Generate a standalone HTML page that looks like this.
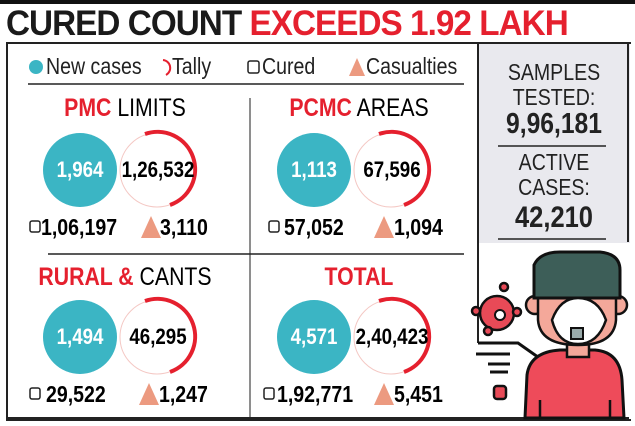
<!DOCTYPE html><html><head><style>
body{margin:0;width:635px;height:426px;background:#fff;position:relative;overflow:hidden;font-family:"Liberation Sans",sans-serif}
.a{position:absolute;white-space:nowrap}
.t{font-weight:bold;font-size:16px;transform:scaleX(.85);transform-origin:center}
</style></head><body>
<div class="a" style="left:0;top:0;width:635px;height:4px;background:#111"></div>
<div class="a" style="left:6px;top:4px;font-size:35px;font-weight:bold;letter-spacing:-1px;transform:scaleX(.95);transform-origin:left"><span style="color:#1a1a1a">CURED COUNT </span><span style="color:#e5202e">EXCEEDS 1.92 LAKH</span></div>
<div class="a" style="left:478px;top:43px;width:152px;height:200px;background:#e9e9ee"></div>
<div class="a" style="left:6px;top:42px;width:623px;height:375px;border:2px solid #222;border-right:none"></div>
<div class="a" style="left:627px;top:42px;width:2px;height:200px;background:#222"></div>
<div class="a" style="left:477px;top:43px;width:2px;height:300px;background:#222"></div>
<svg class="a" style="left:0;top:0" width="635" height="426">
<line x1="28" y1="84" x2="464" y2="84" stroke="#222" stroke-width="1.5"/>
<line x1="250" y1="98" x2="250" y2="418" stroke="#444" stroke-width="1.2"/>
<line x1="48" y1="254" x2="464" y2="254" stroke="#222" stroke-width="1.5"/>
<line x1="498" y1="146" x2="606" y2="146" stroke="#222" stroke-width="1.5"/>
<line x1="498" y1="239" x2="606" y2="239" stroke="#222" stroke-width="1.5"/>
<circle cx="36" cy="67" r="7" fill="#3bb5c4"/>
<path d="M163 60 A8 8 0 0 1 166 75" fill="none" stroke="#e5202e" stroke-width="2"/>
<rect x="248" y="61" width="11" height="12" rx="2" fill="none" stroke="#222" stroke-width="1.5"/>
<path d="M349 76 L357 58 L365 76Z" fill="#ec9a80"/>
<g id="c">
<circle cx="80" cy="170" r="37" fill="#3bb5c4"/>
<circle cx="157" cy="170" r="37" fill="#fff" stroke="#f4c8c4" stroke-width="1"/>
<path d="M145 134 A37 37 0 0 1 170 205" fill="none" stroke="#e5202e" stroke-width="4"/>
</g>
<use href="#c" x="234"/><use href="#c" y="167"/><use href="#c" x="234" y="167"/>
<g fill="none" stroke="#222" stroke-width="1.5">
<rect x="30" y="221" width="10" height="11" rx="2"/><rect x="269" y="221" width="10" height="11" rx="2"/>
<rect x="30" y="388" width="10" height="11" rx="2"/><rect x="264" y="388" width="10" height="11" rx="2"/></g>
<g fill="#ec9a80"><path d="M141 238L151 216L161 238Z"/><path d="M374 238L384 216L394 238Z"/><path d="M139 405L149 383L159 405Z"/><path d="M374 405L384 383L394 405Z"/></g>
<line x1="6" y1="418" x2="629" y2="418" stroke="#222" stroke-width="2"/>
<path d="M478 343 L518 343 L545 362" fill="none" stroke="#111" stroke-width="3"/>
<g stroke="#111" stroke-width="3"><line x1="476" y1="354" x2="510" y2="354"/><line x1="488" y1="364" x2="510" y2="364"/><line x1="490" y1="372" x2="508" y2="372"/></g>
<rect x="494" y="386" width="12" height="13" rx="3" fill="#e84a57" stroke="#111" stroke-width="2.5"/>
<g stroke="#111" stroke-width="2.5" fill="#e84a57"><circle cx="497" cy="313" r="17"/><circle cx="504" cy="287" r="4"/><circle cx="476" cy="311" r="4"/><circle cx="517" cy="312" r="4"/><circle cx="488" cy="331" r="4"/></g>
<circle cx="500" cy="315" r="5" fill="#fff" stroke="#111" stroke-width="2"/>
<path d="M525 418 L527 375 Q530 352 560 350 L595 350 Q620 352 622 380 L624 418Z" fill="#ee4b5a" stroke="#111" stroke-width="3"/>
<rect x="567" y="335" width="22" height="22" fill="#f4a89a" stroke="#111" stroke-width="2.5"/>
<circle cx="535" cy="305" r="9" fill="#f4a89a" stroke="#111" stroke-width="2.5"/><circle cx="618" cy="305" r="9" fill="#f4a89a" stroke="#111" stroke-width="2.5"/>
<path d="M538 290 L538 320 Q540 345 578 345 Q614 345 616 320 L616 290Z" fill="#f4a89a" stroke="#111" stroke-width="2.5"/>
<path d="M534 298 L534 265 Q540 252 560 252 L600 252 Q620 254 620 270 L620 298Z" fill="#3d5e58" stroke="#111" stroke-width="3"/>
<path d="M552 320 Q560 298 578 298 Q598 298 606 320 Q598 344 578 344 Q558 344 552 320Z" fill="#fff" stroke="#111" stroke-width="2.5"/>
<rect x="571" y="328" width="12" height="11" fill="#9aa" stroke="#111" stroke-width="2"/>
<line x1="540" y1="400" x2="540" y2="418" stroke="#111" stroke-width="2.5"/><line x1="610" y1="400" x2="610" y2="418" stroke="#111" stroke-width="2.5"/>
</svg>
<div class="a" style="left:46px;top:53px;font-size:23px;color:#222;transform:scaleX(.85);transform-origin:left">New cases</div>
<div class="a" style="left:172px;top:53px;font-size:23px;color:#222;transform:scaleX(.85);transform-origin:left">Tally</div>
<div class="a" style="left:262px;top:53px;font-size:23px;color:#222;transform:scaleX(.85);transform-origin:left">Cured</div>
<div class="a" style="left:366px;top:53px;font-size:23px;color:#222;transform:scaleX(.85);transform-origin:left">Casualties</div>
<div class="a" style="left:0;width:250px;top:94px;text-align:center;font-size:25px;transform:scaleX(.85)"><b style="color:#e5202e">PMC</b> LIMITS</div>
<div class="a" style="left:234px;width:250px;top:94px;text-align:center;font-size:25px;transform:scaleX(.85)"><b style="color:#e5202e">PCMC</b> AREAS</div>
<div class="a" style="left:0;width:250px;top:263px;text-align:center;font-size:25px;transform:scaleX(.85)"><b style="color:#e5202e">RURAL &amp;</b> CANTS</div>
<div class="a" style="left:234px;width:250px;top:263px;text-align:center;font-size:25px;transform:scaleX(.85)"><b style="color:#e5202e">TOTAL</b></div>
<div class="a t" style="left:40px;width:80px;top:157px;text-align:center;color:#fff;font-size:22px">1,964</div>
<div class="a t" style="left:112px;width:92px;top:157px;text-align:center;font-size:22px">1,26,532</div>
<div class="a t" style="left:274px;width:80px;top:157px;text-align:center;color:#fff;font-size:22px">1,113</div>
<div class="a t" style="left:346px;width:92px;top:157px;text-align:center;font-size:22px">67,596</div>
<div class="a t" style="left:40px;width:80px;top:324px;text-align:center;color:#fff;font-size:22px">1,494</div>
<div class="a t" style="left:112px;width:92px;top:324px;text-align:center;font-size:22px">46,295</div>
<div class="a t" style="left:274px;width:80px;top:324px;text-align:center;color:#fff;font-size:22px">4,571</div>
<div class="a t" style="left:346px;width:92px;top:324px;text-align:center;font-size:22px">2,40,423</div>
<div class="a t" style="left:41px;top:214px;font-size:23px;transform-origin:left">1,06,197</div>
<div class="a t" style="left:160px;top:214px;font-size:23px;transform-origin:left">3,110</div>
<div class="a t" style="left:284px;top:214px;font-size:23px;transform-origin:left">57,052</div>
<div class="a t" style="left:394px;top:214px;font-size:23px;transform-origin:left">1,094</div>
<div class="a t" style="left:46px;top:381px;font-size:23px;transform-origin:left">29,522</div>
<div class="a t" style="left:159px;top:381px;font-size:23px;transform-origin:left">1,247</div>
<div class="a t" style="left:277px;top:381px;font-size:23px;transform-origin:left">1,92,771</div>
<div class="a t" style="left:394px;top:381px;font-size:23px;transform-origin:left">5,451</div>
<div class="a" style="left:479px;width:150px;top:60px;text-align:center;font-size:23px;line-height:25px;color:#222;transform:scaleX(.85)">SAMPLES<br>TESTED:</div>
<div class="a" style="left:479px;width:150px;top:108px;text-align:center;font-size:29px;font-weight:bold;color:#222;transform:scaleX(.85)">9,96,181</div>
<div class="a" style="left:479px;width:150px;top:150px;text-align:center;font-size:23px;line-height:25px;color:#222;transform:scaleX(.85)">ACTIVE<br>CASES:</div>
<div class="a" style="left:479px;width:150px;top:201px;text-align:center;font-size:30px;font-weight:bold;color:#222;transform:scaleX(.85)">42,210</div>
</body></html>
